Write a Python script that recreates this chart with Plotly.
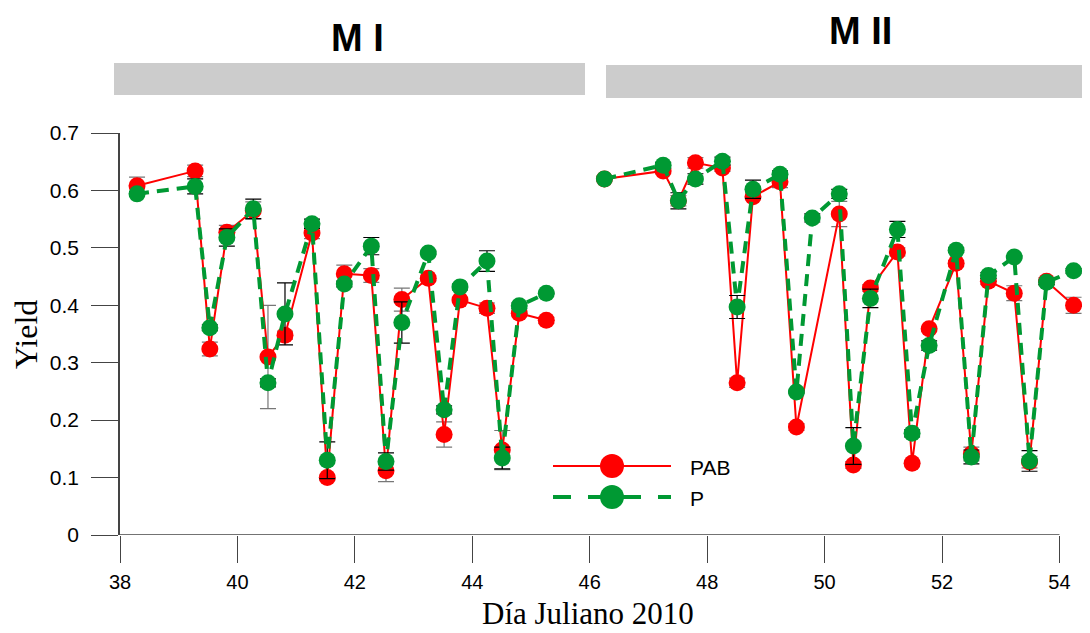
import plotly.graph_objects as go

# ---------------- data ----------------
days_MI = [38.29, 39.28, 39.53, 39.82, 40.27, 40.52, 40.81, 41.27, 41.53, 41.82,
           42.28, 42.53, 42.80, 43.25, 43.52, 43.79, 44.25, 44.51, 44.80, 45.26]
pab_MI = [0.608, 0.634, 0.324, 0.527, 0.565, 0.310, 0.348, 0.526, 0.100, 0.455,
          0.452, 0.112, 0.410, 0.447, 0.175, 0.409, 0.395, 0.148, 0.386, 0.374]
pab_MI_err = [0.015, 0.010, 0.012, 0.012, 0.015, 0.090, 0.007, 0.010, 0.004, 0.015,
              0.012, 0.019, 0.020, 0.004, 0.022, 0.004, 0.009, 0.034, 0.004, 0.005]
p_MI = [0.594, 0.607, 0.361, 0.518, 0.568, 0.265, 0.385, 0.542, 0.130, 0.437,
        0.503, 0.128, 0.370, 0.491, 0.218, 0.432, 0.477, 0.134, 0.399, 0.421]
p_MI_err = [0.004, 0.013, 0.005, 0.015, 0.017, 0.007, 0.054, 0.008, 0.032, 0.005,
            0.015, 0.015, 0.036, 0.003, 0.007, 0.005, 0.018, 0.019, 0.005, 0.002]

days_MII_pab = [46.25, 47.25, 47.51, 47.80, 48.26, 48.51, 48.78, 49.24, 49.52, 50.25, 50.49,
                50.78, 51.24, 51.49, 51.78, 52.24, 52.50, 52.79, 53.23, 53.49, 53.78, 54.24]
pab_MII = [0.620, 0.634, 0.582, 0.648, 0.639, 0.265, 0.589, 0.615, 0.188, 0.559, 0.122,
           0.430, 0.493, 0.125, 0.359, 0.473, 0.141, 0.442, 0.421, 0.127, 0.442, 0.400]
pab_MII_err = [0.0, 0.005, 0.009, 0.009, 0.006, 0.008, 0.003, 0.010, 0.006, 0.022, 0.006,
               0.006, 0.007, 0.002, 0.004, 0.005, 0.012, 0.005, 0.013, 0.010, 0.006, 0.014]

days_MII_p = [46.25, 47.25, 47.51, 47.80, 48.26, 48.51, 48.78, 49.24, 49.52, 49.79, 50.25, 50.49,
              50.78, 51.24, 51.49, 51.78, 52.24, 52.50, 52.79, 53.23, 53.49, 53.78, 54.24]
p_MII = [0.620, 0.644, 0.582, 0.620, 0.651, 0.397, 0.602, 0.628, 0.249, 0.552, 0.594, 0.155,
         0.412, 0.532, 0.177, 0.330, 0.496, 0.136, 0.452, 0.484, 0.129, 0.440, 0.460]
p_MII_err = [0.0, 0.005, 0.014, 0.009, 0.007, 0.020, 0.016, 0.006, 0.002, 0.007, 0.008, 0.032,
             0.016, 0.014, 0.006, 0.008, 0.004, 0.012, 0.005, 0.002, 0.018, 0.004, 0.004]

x_ticks = [38, 40, 42, 44, 46, 48, 50, 52, 54]
y_ticks = [0, 0.1, 0.2, 0.3, 0.4, 0.5, 0.6, 0.7]
y_tick_text = ["0", "0.1", "0.2", "0.3", "0.4", "0.5", "0.6", "0.7"]
series_names = ["PAB", "P"]
panel_names = ["M I", "M II"]
x_title = "Día Juliano 2010"
y_title = "Yield"

RED = "#ff0000"
GREEN = "#009933"
SANS = "Arial, Liberation Sans, sans-serif"
SERIF = "Times New Roman, Liberation Serif, serif"

fig = go.Figure()


def add_pab(x, y, e):
    fig.add_trace(go.Scatter(
        x=x, y=y, mode="lines+markers", name=series_names[0], showlegend=False,
        line=dict(color=RED, width=2),
        marker=dict(color=RED, size=17),
        error_y=dict(type="data", array=e, color="#777777", thickness=1.2, width=8),
    ))


def add_p(x, y, e):
    fig.add_trace(go.Scatter(
        x=x, y=y, mode="lines+markers", name=series_names[1], showlegend=False,
        line=dict(color=GREEN, width=4, dash="12px,8px"),
        marker=dict(color=GREEN, size=17),
        error_y=dict(type="data", array=e, color="#000000", thickness=1.2, width=8),
    ))


add_pab(days_MI, pab_MI, pab_MI_err)
add_pab(days_MII_pab, pab_MII, pab_MII_err)
add_p(days_MI, p_MI, p_MI_err)
add_p(days_MII_p, p_MII, p_MII_err)

# ----- geometry (page body has an 8px margin; reference pixel coords are mapped) -----
OFF = 8
W, H = 1090 - OFF, 633 - OFF
AX_L, AX_R, AX_T, AX_B = 120, 1090, 133, 535   # plot area in reference pixels
L, T = AX_L - OFF, AX_T - OFF
R = 0
B = H - (AX_B - OFF)
PW, PH = AX_R - AX_L, AX_B - AX_T


def px(xp):
    return (xp - AX_L) / PW


def py(yp):
    return (AX_B - yp) / PH


shapes = []
shapes.append(dict(type="line", xref="x", yref="y", x0=x_ticks[0], x1=x_ticks[-1], y0=0, y1=0,
                   line=dict(color="#444444", width=1.5), layer="below"))
shapes.append(dict(type="rect", xref="paper", yref="paper", x0=px(114), x1=px(585),
                   y0=py(95), y1=py(63), fillcolor="#cccccc", line=dict(width=0)))
shapes.append(dict(type="rect", xref="paper", yref="paper", x0=px(606), x1=px(1092),
                   y0=py(98), y1=py(65), fillcolor="#cccccc", line=dict(width=0)))
for i, (col, dash, yy) in enumerate([(RED, "solid", 466), (GREEN, "18px,17px", 497)]):
    shapes.append(dict(type="line", xref="paper", yref="paper", x0=px(553), x1=px(671),
                       y0=py(yy), y1=py(yy),
                       line=dict(color=col, width=2 if i == 0 else 4, dash=dash)))
    shapes.append(dict(type="circle", xref="paper", yref="paper",
                       xsizemode="pixel", ysizemode="pixel",
                       xanchor=px(612), yanchor=py(yy), x0=-12, x1=12, y0=-12, y1=12,
                       fillcolor=col, line=dict(width=0)))

annotations = [
    dict(text="<b>" + panel_names[0] + "</b>", xref="paper", yref="paper", x=px(357), y=py(38),
         showarrow=False, font=dict(family=SANS, size=38, color="black"),
         xanchor="center", yanchor="middle"),
    dict(text="<b>" + panel_names[1] + "</b>", xref="paper", yref="paper", x=px(860), y=py(OFF + 1),
         showarrow=False, font=dict(family=SANS, size=38, color="black"),
         xanchor="center", yanchor="top", borderpad=0),
    dict(text=series_names[0], xref="paper", yref="paper", x=px(688), y=py(467),
         showarrow=False, font=dict(family=SANS, size=21, color="black"),
         xanchor="left", yanchor="middle"),
    dict(text=series_names[1], xref="paper", yref="paper", x=px(688), y=py(498),
         showarrow=False, font=dict(family=SANS, size=21, color="black"),
         xanchor="left", yanchor="middle"),
    dict(text=x_title, xref="paper", yref="paper", x=px(588), y=py(632),
         showarrow=False, font=dict(family=SERIF, size=31, color="black"),
         xanchor="center", yanchor="bottom", borderpad=0),
    dict(text=y_title, xref="paper", yref="paper", x=px(26), y=py(335), textangle=-90,
         showarrow=False, font=dict(family=SERIF, size=32, color="black"),
         xanchor="center", yanchor="middle"),
]

fig.update_layout(
    width=W, height=H,
    margin=dict(l=L, r=R, t=T, b=B, pad=0),
    paper_bgcolor="white", plot_bgcolor="white",
    showlegend=False,
    shapes=shapes, annotations=annotations,
    xaxis=dict(range=[38, 54.52], tickvals=x_ticks, ticks="outside", ticklen=27,
               tickcolor="#444444", tickwidth=1, showline=False, showgrid=False,
               zeroline=False, ticklabelstandoff=2,
               tickfont=dict(family=SANS, size=20, color="black")),
    yaxis=dict(range=[0, 0.7], tickvals=y_ticks, ticktext=y_tick_text, ticks="outside",
               ticklen=27, tickcolor="#444444", tickwidth=1, showline=True,
               linecolor="#444444", linewidth=1.5, showgrid=False, zeroline=False,
               ticklabelstandoff=8,
               tickfont=dict(family=SANS, size=21, color="black")),
)

fig.write_html("out.html")
